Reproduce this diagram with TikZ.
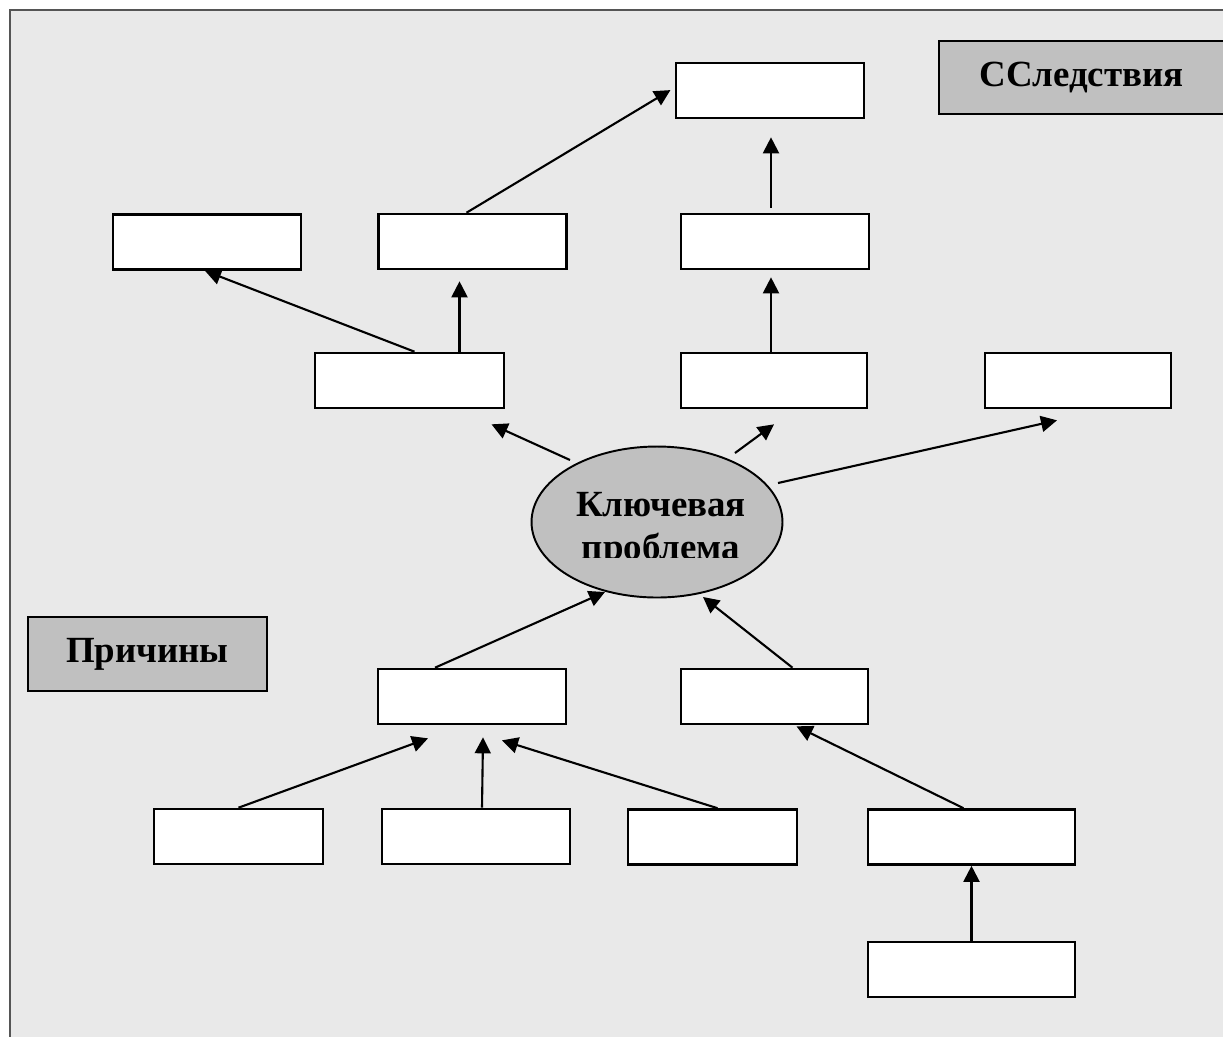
\documentclass[tikz,border=0pt]{standalone}
\usepackage{fontspec}
\setmainfont{Liberation Serif}
\usetikzlibrary{arrows.meta,shapes.geometric,calc}
\definecolor{bg}{HTML}{E9E9E9}
\definecolor{boxgray}{HTML}{C0C0C0}
\definecolor{framegray}{HTML}{555555}
\begin{document}
\begin{tikzpicture}[x=0.02cm,y=-0.02cm,
		box/.style={draw,fill=white,line width=1.5pt,minimum height=1.1cm,inner sep=0pt},
		titlebox/.style={draw,fill=boxgray,line width=1.5pt,inner sep=0pt,font=\bfseries\fontsize{21}{24.4}\selectfont},
		arr/.style={line width=1.2pt,-{Triangle[length=0.32cm,width=0.32cm]}}]
	\useasboundingbox (0,0) rectangle (1223,1036);
	\fill[bg] (10,10) rectangle (1260,1100);
	\draw[framegray,line width=1pt] (1260,10) -- (10,10) -- (10,1100);
	\foreach \n/\x/\y/\w in {top/770/90.5/3.76cm, a/207/242/3.76cm, b/472.5/241.5/3.76cm, c/775/241.5/3.76cm,
			d/409.5/380.5/3.78cm, e/774/380.5/3.72cm, f/1078/380.5/3.72cm, g/472/696.5/3.76cm, h/774.5/696.5/3.74cm,
			i/238.5/836.5/3.38cm, j/476/836.5/3.76cm, k/712.5/837/3.38cm, l/971.5/837/4.14cm, m/971.5/969.5/4.14cm}
		\node[box,minimum width=\w] (\n) at (\x,\y) {};
	\node[titlebox,minimum width=5.7cm,minimum height=1.46cm] (sled) at (1081.5,77.5) {ССледствия};
	\node[titlebox,minimum width=4.78cm,minimum height=1.48cm] (prich) at (147.5,654) {Причины};
	\node[ellipse,draw,fill=boxgray,line width=1.1pt,minimum width=5.02cm,minimum height=3.02cm] (kp) at (657,522) {};
	\begin{scope}
		\clip ($(kp)+(-130,-80)$) rectangle ($(kp)+(130,35)$);
		\node[align=center,font=\bfseries\fontsize{21}{24.4}\selectfont] (kptext) at ($(kp)+(4,7.5)$) {Ключевая\\проблема};
	\end{scope}
	\draw[arr,shorten >=0.1cm] ($(b.north)+(-6,0)$) -- ($(top.west)+(0,-3)$);
	\draw[arr,shorten <=0.1cm,shorten >=0.36cm] ($(c.north)+(-4,0)$) -- ($(top.south)+(1,0)$);
	\draw[arr] ($(d.north)+(5,0)$) -- ($(a.south)+(-2,0)$);
	\draw[arr,shorten >=0.22cm] ($(d.north)+(50,0)$) -- ($(b.south)+(-13,0)$);
	\draw[arr,shorten >=0.14cm] ($(e.north)+(-3,0)$) -- ($(c.south)+(-4,0)$);
	\draw[arr] ($(kp)+(-87,-62)$) -- ($(d.south)+(82,15)$);
	\draw[arr] ($(kp)+(78,-69)$) -- ($(e.south)+(0,15)$);
	\draw[arr] ($(kp)+(121,-39)$) -- ($(f.south)+(-21,11)$);
	\draw[arr] ($(g.north)+(-37,0)$) -- ($(kp)+(-52,70)$);
	\draw[arr] ($(h.north)+(18,0)$) -- ($(kp)+(46,75)$);
	\draw[arr] (i.north) -- ($(g.south)+(-44,13)$);
	\draw[arr] ($(j.north)+(6,0)$) -- ($(g.south)+(11,12)$);
	\draw[arr] ($(k.north)+(5,0)$) -- ($(g.south)+(30,15)$);
	\draw[arr] ($(l.north)+(-8,0)$) -- ($(h.south)+(22,1)$);
	\draw[arr] (m.north) -- (l.south);
\end{tikzpicture}
\end{document}
